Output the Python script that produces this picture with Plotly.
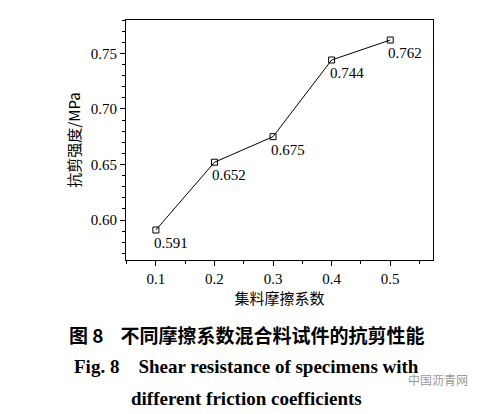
import plotly.graph_objects as go

# friction coefficient vs shear strength
friction = [0.1, 0.2, 0.3, 0.4, 0.5]
strength = [0.591, 0.652, 0.675, 0.744, 0.762]
labels = ['0.591', '0.652', '0.675', '0.744', '0.762']

serif = 'Liberation Serif, Times New Roman, serif'

fig = go.Figure()
fig.add_trace(go.Scatter(
    x=friction, y=strength, mode='lines+markers',
    line=dict(color='black', width=1),
    marker=dict(symbol='square-open', size=6, color='black', line=dict(width=1)),
    showlegend=False
))

for x, y, t in zip(friction, strength, labels):
    fig.add_annotation(x=x, y=y, text=t, showarrow=False, xanchor='left', yanchor='top',
                       xshift=-4, yshift=-3, font=dict(family=serif, size=15, color='black'))

axis_common = dict(showline=True, linecolor='black', linewidth=1, mirror=True,
                   ticks='outside', ticklen=5, tickcolor='black', showgrid=False, zeroline=False,
                   tickfont=dict(family=serif, size=15, color='black'),
                   minor=dict(ticks='outside', ticklen=3, tickcolor='black'))

fig.update_xaxes(range=[0.049, 0.573], tickvals=[0.1, 0.2, 0.3, 0.4, 0.5],
                 ticktext=['0.1', '0.2', '0.3', '0.4', '0.5'],
                 title=dict(text='集料摩擦系数', font=dict(family='Noto Sans CJK SC', size=15, color='black'),
                            standoff=6),
                 **axis_common)
fig.update_yaxes(range=[0.564, 0.780], tickvals=[0.60, 0.65, 0.70, 0.75], tickformat='.2f',
                 title=dict(text='抗剪强度/MPa', font=dict(family='Noto Sans CJK SC', size=15, color='black'),
                            standoff=6),
                 **axis_common)

captions = [
    ('<b>图 8</b>    <b>不同摩擦系数混合料试件的抗剪性能</b>', 326, 'Noto Sans CJK SC', 19),
    ('<b>Fig. 8    Shear resistance of specimens with</b>', 358, serif, 19),
    ('<b>different friction coefficients</b>', 390, serif, 19),
]
for text, ypx, fam, size in captions:
    fig.add_annotation(x=0.5, y=1 - (ypx - 12) / 240, xref='paper', yref='paper', text=text,
                       showarrow=False, font=dict(family=fam, size=size, color='black'),
                       xanchor='center', yanchor='middle', xshift=-33)

fig.add_annotation(x=1.12, y=1 - (382 - 12) / 240, xref='paper', yref='paper', text='中国沥青网',
                   showarrow=False, font=dict(family='Noto Sans CJK SC', size=12, color='#9a9a9a'))

fig.update_layout(width=483, height=414, margin=dict(l=118, r=58, t=12, b=162),
                  plot_bgcolor='white', paper_bgcolor='white')

fig.write_html('out.html')
